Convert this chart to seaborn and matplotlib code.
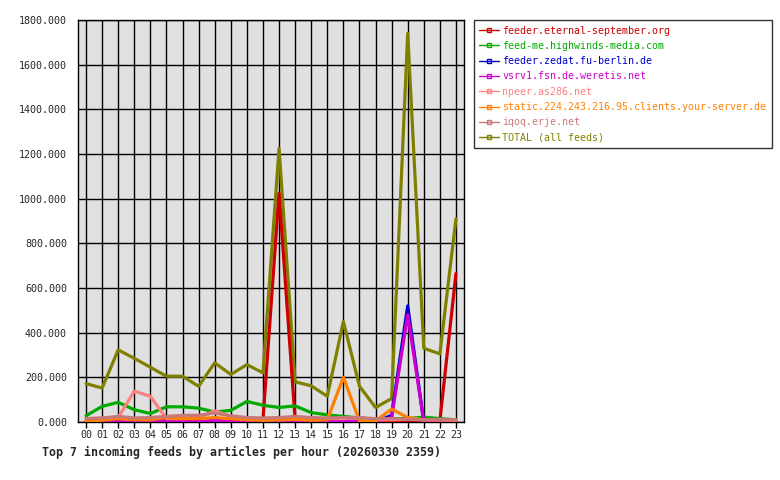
import matplotlib
matplotlib.use("Agg")
import matplotlib.pyplot as plt
import seaborn as sns
import pandas as pd
from matplotlib.lines import Line2D

hours = [f"{h:02d}" for h in range(24)]

feeds = [
    "feeder.eternal-september.org",
    "feed-me.highwinds-media.com",
    "feeder.zedat.fu-berlin.de",
    "vsrv1.fsn.de.weretis.net",
    "npeer.as286.net",
    "static.224.243.216.95.clients.your-server.de",
    "iqoq.erje.net",
    "TOTAL (all feeds)",
]
colors = ["#cc0000", "#00aa00", "#0000cc", "#cc00cc", "#ff8080", "#ff8000", "#c87878", "#808000"]

eternal = [0, 0, 0, 0, 0, 0, 0, 0, 0, 0, 0, 10, 1025, 10, 0, 0, 0, 0, 0, 0, 0, 0, 5, 665]
highwinds = [28, 70, 88, 55, 38, 68, 68, 62, 45, 52, 92, 75, 65, 72, 42, 32, 25, 18, 12, 15, 15, 22, 15, 10]
zedat = [0, 0, 0, 0, 0, 0, 0, 0, 0, 0, 0, 0, 0, 0, 0, 0, 0, 0, 0, 30, 520, 0, 0, 0]
weretis = [2, 2, 2, 2, 2, 8, 2, 2, 8, 2, 2, 2, 2, 2, 2, 2, 8, 2, 2, 20, 480, 2, 2, 2]
npeer = [15, 18, 20, 138, 115, 15, 15, 20, 50, 25, 15, 10, 10, 12, 12, 15, 15, 20, 10, 10, 12, 10, 10, 8]
static = [5, 8, 15, 10, 10, 20, 15, 15, 20, 15, 10, 8, 10, 12, 8, 10, 200, 5, 5, 58, 20, 10, 10, 8]
iqoq = [15, 18, 25, 18, 20, 25, 30, 30, 40, 28, 20, 18, 20, 25, 20, 18, 20, 20, 15, 15, 12, 10, 12, 10]
total = [172, 152, 323, 285, 245, 205, 205, 160, 265, 213, 257, 220, 1225, 180, 162, 115, 450, 160, 65, 105, 1740, 330, 305, 910]

series = [eternal, highwinds, zedat, weretis, npeer, static, iqoq, total]

rows = []
for name, vals in zip(feeds, series):
    for i, v in enumerate(vals):
        rows.append({"hour": i, "articles": v, "feed": name})
df = pd.DataFrame(rows)

sns.set_theme(style="white")
plt.rcParams["font.family"] = ["DejaVu Sans Mono", "DejaVu Sans"]

fig = plt.figure(figsize=(7.8, 4.8), dpi=100)
ax = fig.add_axes([78 / 780, 1 - 422 / 480, (464 - 78) / 780, (422 - 20) / 480])
ax.set_facecolor("#e0e0e0")

draw_order = [feeds[7]] + feeds[:7]
palette = dict(zip(feeds, colors))
for name in draw_order:
    sub = df[df["feed"] == name]
    sns.lineplot(data=sub, x="hour", y="articles", color=palette[name], lw=2.3,
                 ax=ax, legend=False, zorder=3)

ax.set_xlim(-0.5, 23.5)
ax.set_ylim(0, 1800)
ax.set_xticks(range(24))
ax.set_xticklabels(hours, fontsize=7.2)
ax.set_yticks(range(0, 1801, 200))
ax.set_yticklabels([f"{v}.000" for v in range(0, 1801, 200)], fontsize=7.2)
ax.grid(True, color="black", lw=1)
ax.set_axisbelow(True)
ax.tick_params(axis="x", length=4, width=1, color="black", pad=2, direction="out", bottom=True)
ax.tick_params(axis="y", length=0, pad=8)
for s in ax.spines.values():
    s.set_color("black")
    s.set_linewidth(1)
ax.set_xlabel("")
ax.set_ylabel("")

fig.text(42 / 780, 1 - 452 / 480, "Top 7 incoming feeds by articles per hour (20260330 2359)",
         fontsize=8.4, fontweight="bold", va="center", ha="left")

handles = [Line2D([0], [0], color=c, lw=1, marker="s", markersize=2.5,
                  markerfacecolor="none", markeredgecolor=c) for c in colors]
leg = fig.legend(handles, feeds, loc="upper left", bbox_to_anchor=(474 / 780, 1 - 20 / 480),
                 frameon=True, fancybox=False, edgecolor="black", fontsize=7.2,
                 handlelength=2.0, handletextpad=0.3, labelspacing=0.53, borderpad=0.55,
                 borderaxespad=0)
leg.get_frame().set_linewidth(1)
for t, c in zip(leg.get_texts(), colors):
    t.set_color(c)

fig.savefig("out.png", dpi=100)
